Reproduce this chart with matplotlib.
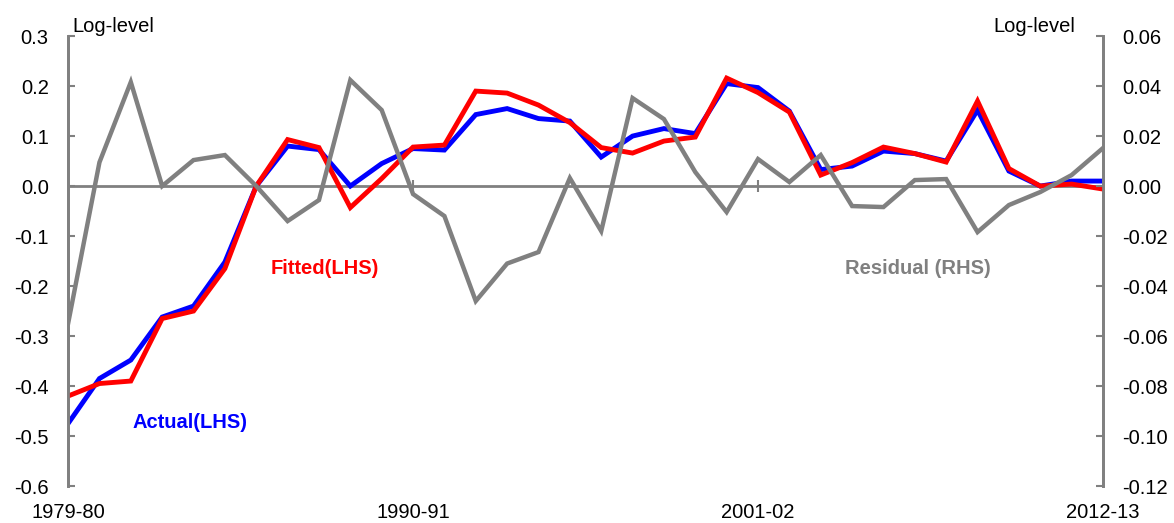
import matplotlib
matplotlib.use("Agg")
import matplotlib.pyplot as plt
import numpy as np

years = ["1979-80", "1980-81", "1981-82", "1982-83", "1983-84", "1984-85", "1985-86",
         "1986-87", "1987-88", "1988-89", "1989-90", "1990-91", "1991-92", "1992-93",
         "1993-94", "1994-95", "1995-96", "1996-97", "1997-98", "1998-99", "1999-00",
         "2000-01", "2001-02", "2002-03", "2003-04", "2004-05", "2005-06", "2006-07",
         "2007-08", "2008-09", "2009-10", "2010-11", "2011-12", "2012-13"]

actual = [-0.475, -0.385, -0.348, -0.262, -0.240, -0.152, 0.000, 0.080, 0.073, 0.000,
          0.045, 0.075, 0.072, 0.143, 0.155, 0.135, 0.130, 0.058, 0.100, 0.115,
          0.105, 0.205, 0.197, 0.150, 0.033, 0.040, 0.070, 0.065, 0.050, 0.152,
          0.030, 0.000, 0.010, 0.010]

fitted = [-0.420, -0.395, -0.390, -0.265, -0.250, -0.165, 0.000, 0.093, 0.077, -0.043,
          0.015, 0.078, 0.082, 0.190, 0.186, 0.162, 0.127, 0.077, 0.066, 0.090,
          0.098, 0.216, 0.187, 0.148, 0.022, 0.047, 0.078, 0.065, 0.048, 0.170,
          0.035, 0.000, 0.004, -0.006]

residual = [-0.0550, 0.0095, 0.0416, 0.0000, 0.0104, 0.0124, 0.0000, -0.0140, -0.0056, 0.0424,
            0.0304, -0.0032, -0.0120, -0.0460, -0.0310, -0.0264, 0.0032, -0.0180, 0.0352, 0.0268,
            0.0056, -0.0104, 0.0108, 0.0016, 0.0124, -0.0080, -0.0084, 0.0024, 0.0028, -0.0184,
            -0.0076, -0.0024, 0.0044, 0.0152]

label_idx = [0, 11, 22, 33]
left_ticks = [-0.6, -0.5, -0.4, -0.3, -0.2, -0.1, 0.0, 0.1, 0.2, 0.3]
right_ticks = [-0.12, -0.10, -0.08, -0.06, -0.04, -0.02, 0.00, 0.02, 0.04, 0.06]

plt.rcParams["font.family"] = ["Liberation Sans", "DejaVu Sans"]
grey = "#808080"

x = np.arange(len(years))

fig = plt.figure(figsize=(11.74, 5.23), dpi=100)
ax = fig.add_axes([0.058, 0.0707, 0.8815, 0.8603])
ax2 = ax.twinx()

# zero line
ax.axhline(0, color=grey, linewidth=2, zorder=1)

ax.plot(x, actual, color="#0000ff", linewidth=3.5, solid_joinstyle="miter", zorder=2)
ax.plot(x, fitted, color="#ff0000", linewidth=3.5, solid_joinstyle="miter", zorder=3)
ax2.plot(x, residual, color=grey, linewidth=3.2, solid_joinstyle="miter")

ax.set_xlim(0, len(years) - 1)
ax.set_ylim(-0.6, 0.3)
ax2.set_ylim(-0.12, 0.06)
ax.set_yticks(left_ticks)
ax.set_yticklabels([f"{v:.1f}" for v in left_ticks])
ax2.set_yticks(right_ticks)
ax2.set_yticklabels([f"{v:.2f}" for v in right_ticks])

for a in (ax, ax2):
    for s in ["top", "bottom"]:
        a.spines[s].set_visible(False)
    for s in ["left", "right"]:
        a.spines[s].set_color(grey)
        a.spines[s].set_linewidth(2)

ax.tick_params(axis="y", direction="in", length=5, width=1.5, color=grey,
               labelsize=14.5, pad=14)
ax2.tick_params(axis="y", direction="in", length=5, width=1.5, color=grey,
                labelsize=14.5, pad=14)

ax.set_xticks([x[i] for i in label_idx])
ax.set_xticklabels([years[i] for i in label_idx])
ax.tick_params(axis="x", length=0, labelsize=14.5, pad=12)

# small year ticks sitting on the zero line
zero = ax.secondary_xaxis(2 / 3)
for s in zero.spines.values():
    s.set_visible(False)
zero.set_xticks([x[11], x[22]])
zero.set_xticklabels([])
zero.tick_params(axis="x", direction="inout", length=9, width=1.5, color=grey)

ax.text(0.004, 1.009, "Log-level", transform=ax.transAxes, fontsize=14.5,
        ha="left", va="baseline")
ax.text(0.973, 1.009, "Log-level", transform=ax.transAxes, fontsize=14.5,
        ha="right", va="baseline")

ax.text(8.2, -0.164, "Fitted(LHS)", color="#ff0000", fontsize=14.5,
        fontweight="bold", ha="center", va="center")
ax.text(3.9, -0.472, "Actual(LHS)", color="#0000ff", fontsize=14.5,
        fontweight="bold", ha="center", va="center")
ax.text(27.1, -0.164, "Residual (RHS)", color=grey, fontsize=14.5,
        fontweight="bold", ha="center", va="center")

ax2.set_zorder(ax.get_zorder() + 1)

plt.savefig("out.png", dpi=100)
